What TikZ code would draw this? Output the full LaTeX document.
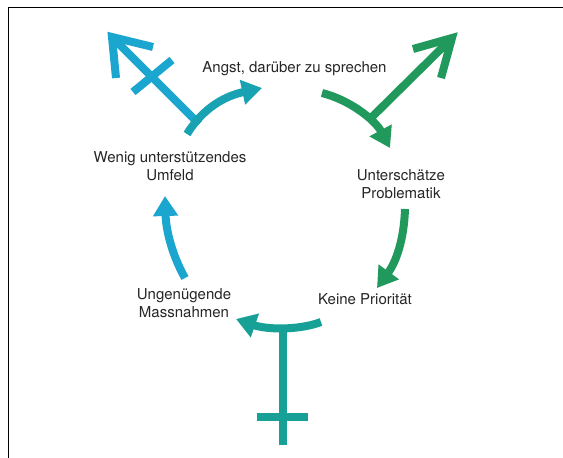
\documentclass[tikz,border=0pt]{standalone}
\usepackage{fontspec}
\setmainfont{TeX Gyre Heros}
\usetikzlibrary{arrows.meta}
\definecolor{cblue}{HTML}{1BA6CF}
\definecolor{cteal}{HTML}{17A096}
\definecolor{cgreen}{HTML}{22995C}
\colorlet{cbt}{cblue!50!cteal}
\begin{document}
\begin{tikzpicture}[x=1pt,y=-1pt,
  lbl/.style={font=\fontsize{15}{18}\selectfont, align=center, text=black!85},
  bar/.style={line width=8pt},
  headtip/.style={-{Triangle[length=20pt,width=24pt]}},
  vtip/.style={line width=8pt, line join=miter, miter limit=10}]
\useasboundingbox (0,0) rectangle (563,458);
\fill[white] (0,0) rectangle (563,458);
\draw[line width=1.5pt] (563,7.5) -- (8.5,7.5) -- (8.5,458);

% labels
\node[lbl] (angst) at (294.5,69) {Angst, darüber zu sprechen};
\node[lbl] (unter) at (401,184.5) {Unterschätze\\Problematik};
\node[lbl] (keine) at (365,299) {Keine Priorität};
\node[lbl] (ungen) at (184,303.5) {Ungenügende\\Massnahmen};
\node[lbl] (wenig) at (170,166.5) {Wenig unterstützendes\\Umfeld};

% named points
\coordinate (c1s) at (187,134);
\coordinate (c1e) at (262,88);
\coordinate (c2s) at (322,93);
\coordinate (c2e) at (390,148);
\coordinate (c3s) at (405,209);
\coordinate (c3e) at (377,288);
\coordinate (c4s) at (321,322);
\coordinate (c4e) at (236,319);
\coordinate (c5s) at (185,278);
\coordinate (c5e) at (165,196);

% blue symbol upper left
\coordinate (bvert) at (112,37);
\coordinate (bbase) at (199,124);
\coordinate (ba1) at (153,47);
\coordinate (ba2) at (116,78);
\coordinate (bx1) at (133,92);
\coordinate (bx2) at (172,60);
\draw[bar, cblue] (bbase) -- (bvert);
\draw[vtip, cblue] (ba1) -- (bvert) -- (ba2);
\draw[bar, cblue] (bx1) -- (bx2);

% green symbol upper right
\coordinate (gvert) at (452,38);
\coordinate (gbase) at (371,118);
\coordinate (ga1) at (413,49);
\coordinate (ga2) at (441,78);
\draw[bar, cgreen] (gbase) -- (gvert);
\draw[vtip, cgreen] (ga1) -- (gvert) -- (ga2);

% teal symbol bottom
\coordinate (ttop) at (283,326);
\coordinate (tbot) at (283,445);
\coordinate (tx1) at (257,417);
\coordinate (tx2) at (308,417);
\draw[bar, cteal] (ttop) -- (tbot);
\draw[bar, cteal] (tx1) -- (tx2);

% cycle arrows
\draw[bar, cbt, headtip] (c1s) .. controls (203,108) and (225,96) .. (c1e);
\draw[bar, cgreen, headtip] (c2s) .. controls (350,100) and (375,120) .. (c2e);
\draw[bar, cgreen, headtip] (c3s) .. controls (404,240) and (396,262) .. (c3e);
\draw[bar, cteal, headtip] (c4s) .. controls (300,330) and (268,330) .. (c4e);
\draw[bar, cblue, headtip] (c5s) .. controls (172,255) and (166,230) .. (c5e);
\end{tikzpicture}
\end{document}
